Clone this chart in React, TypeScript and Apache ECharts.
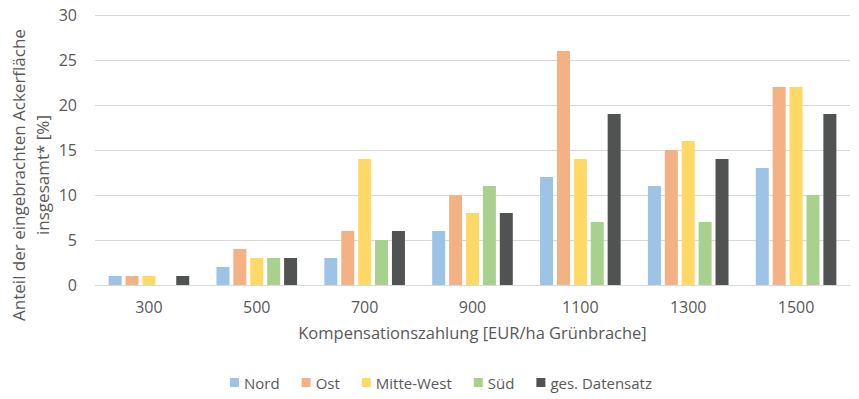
import React, { useEffect, useRef } from "react";
import * as echarts from "echarts";

const categories = ["300", "500", "700", "900", "1100", "1300", "1500"];
const nord = [1, 2, 3, 6, 12, 11, 13];
const ost = [1, 4, 6, 10, 26, 15, 22];
const mitteWest = [1, 3, 14, 8, 14, 16, 22];
const sued = [0, 3, 5, 11, 7, 7, 10];
const gesamt = [1, 3, 6, 8, 19, 14, 19];

const seriesNames = ["Nord", "Ost", "Mitte-West", "Süd", "ges. Datensatz"];
const seriesColors = ["#9dc3e6", "#f4b183", "#ffd966", "#a9d18e", "#505352"];
const seriesData = [nord, ost, mitteWest, sued, gesamt];

const yTitle = "Anteil der eingebrachten Ackerfläche\ninsgesamt* [%]";
const xTitle = "Kompensationszahlung [EUR/ha Grünbrache]";

const FONT = "'Open Sans', sans-serif";
const TEXT = "#595959";

export default function App() {
  const ref = useRef<HTMLDivElement>(null);

  useEffect(() => {
    if (!ref.current) return;
    const chart = echarts.init(ref.current, undefined, { renderer: "svg" });
    chart.setOption({
      animation: false,
      backgroundColor: "#ffffff",
      textStyle: { fontFamily: FONT },
      grid: { left: 95, right: 9, top: 15, bottom: 114, outerBoundsMode: "none" },
      legend: {
        top: 370,
        left: 225,
        itemWidth: 9,
        itemHeight: 9,
        itemGap: 22,
        icon: "rect",
        textStyle: { color: TEXT, fontSize: 15, fontFamily: FONT },
        data: seriesNames,
      },
      // rotated y-axis title, two lines
      graphic: [
        {
          type: "text",
          x: 30,
          y: 175,
          rotation: Math.PI / 2,
          style: {
            text: yTitle,
            fill: TEXT,
            font: `17px ${FONT}`,
            lineHeight: 24,
            align: "center",
            verticalAlign: "middle",
          },
        },
      ],
      xAxis: {
        type: "category",
        data: categories,
        name: xTitle,
        nameLocation: "middle",
        nameGap: 39,
        nameTextStyle: { color: TEXT, fontSize: 16.5, fontFamily: FONT },
        axisLine: { lineStyle: { color: "#d9d9d9" } },
        axisTick: { show: false },
        axisLabel: { color: TEXT, fontSize: 16, margin: 14, fontFamily: FONT },
      },
      yAxis: {
        type: "value",
        min: 0,
        max: 30,
        interval: 5,
        axisLine: { show: false },
        axisTick: { show: false },
        axisLabel: { color: TEXT, fontSize: 16, margin: 18, fontFamily: FONT },
        splitLine: { lineStyle: { color: "#d9d9d9" } },
      },
      series: seriesNames.map((name, i) => ({
        name,
        type: "bar",
        data: seriesData[i],
        barWidth: 13,
        barGap: "30%",
        itemStyle: { color: seriesColors[i] },
      })),
    });
    return () => chart.dispose();
  }, []);

  return (
    <div
      ref={ref}
      style={{ position: "absolute", left: 0, top: 0, width: 859, height: 399 }}
    />
  );
}
